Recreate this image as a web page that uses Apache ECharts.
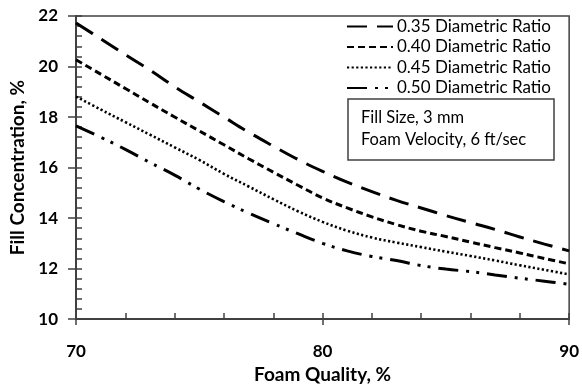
<!DOCTYPE html>
<html>
<head>
<meta charset="utf-8">
<script src="https://cdn.jsdelivr.net/npm/echarts@6/dist/echarts.min.js"></script>
<style>
  html, body { margin: 0; padding: 0; background: #fff; }
  #chart { width: 582px; height: 389px; }
</style>
</head>
<body>
<div id="chart"></div>
<script>
const foamQuality = [70, 71, 72, 73, 74, 75, 76, 77, 78, 79, 80, 81, 82, 83, 84, 85, 86, 87, 88, 89, 90]
const ratio035 = [21.72, 21.1, 20.47, 19.86, 19.2, 18.6, 18.0, 17.4, 16.85, 16.32, 15.85, 15.42, 15.05, 14.7, 14.4, 14.1, 13.82, 13.55, 13.25, 12.97, 12.7]
const ratio040 = [20.27, 19.7, 19.13, 18.56, 18.0, 17.45, 16.9, 16.35, 15.82, 15.3, 14.8, 14.4, 14.05, 13.74, 13.48, 13.27, 13.05, 12.83, 12.62, 12.4, 12.19]
const ratio045 = [18.81, 18.3, 17.8, 17.3, 16.8, 16.3, 15.75, 15.25, 14.75, 14.27, 13.85, 13.5, 13.23, 13.03, 12.85, 12.67, 12.5, 12.32, 12.13, 11.95, 11.77]
const ratio050 = [17.65, 17.2, 16.72, 16.2, 15.7, 15.15, 14.65, 14.2, 13.78, 13.38, 13.0, 12.7, 12.48, 12.32, 12.12, 11.98, 11.88, 11.75, 11.62, 11.5, 11.38]
const seriesNames = ['0.35 Diametric Ratio', '0.40 Diametric Ratio', '0.45 Diametric Ratio', '0.50 Diametric Ratio']
const noteLines = ['Fill Size, 3 mm', 'Foam Velocity, 6 ft/sec']

const font = 'Lato, "Liberation Sans", sans-serif'
const axisColor = '#404040'

function pairs (ys) {
  return foamQuality.map((x, i) => [x, ys[i]])
}

const dashes = [[20, 10], [7, 4], [2.2, 2.4], [20, 8, 3, 7, 3, 8]]
const widths = [3, 3, 2.6, 3]

const chart = echarts.init(document.getElementById('chart'), null, { renderer: 'canvas' })

chart.setOption({
  animation: false,
  backgroundColor: '#fff',
  grid: {
    left: 76, right: 8, top: 16, bottom: 63,
    show: true, borderColor: axisColor, borderWidth: 1.5
  },
  legend: {
    orient: 'vertical',
    left: 346,
    top: 18,
    padding: 0,
    itemWidth: 46,
    itemHeight: 12,
    itemGap: 3.5,
    data: seriesNames,
    itemStyle: { opacity: 0, borderWidth: 0 },
    textStyle: { fontFamily: font, fontSize: 17, color: '#000', padding: [0, 0, 0, -1] }
  },
  xAxis: [{
    type: 'value', min: 70, max: 90, interval: 10,
    axisLine: { show: true, lineStyle: { color: axisColor, width: 2 } },
    axisTick: { show: true, length: 6, lineStyle: { color: axisColor, width: 1.5 } },
    axisLabel: { margin: 24, fontFamily: font, fontSize: 17, fontWeight: 'bold', color: '#000' },
    splitLine: { show: false },
    name: 'Foam Quality, %',
    nameLocation: 'middle',
    nameGap: 43,
    nameTextStyle: { fontFamily: font, fontSize: 19, fontWeight: 'bold', color: '#000' }
  }, {
    type: 'value', min: 70, max: 90, interval: 2, position: 'bottom',
    axisLine: { show: false },
    axisTick: { show: true, inside: true, length: 6, lineStyle: { color: axisColor, width: 1.5 } },
    axisLabel: { show: false },
    splitLine: { show: false }
  }],
  yAxis: [{
    type: 'value', min: 10, max: 22, interval: 2, position: 'left',
    axisLine: { show: true, lineStyle: { color: axisColor, width: 2 } },
    axisTick: { show: true, length: 8, lineStyle: { color: axisColor, width: 1.5 } },
    axisLabel: { margin: 18, fontFamily: font, fontSize: 17, fontWeight: 'bold', color: '#000' },
    splitLine: { show: false },
    name: 'Fill Concentration, %',
    nameLocation: 'middle',
    nameGap: 44,
    nameTextStyle: { fontFamily: font, fontSize: 19, fontWeight: 'bold', color: '#000' }
  }, {
    type: 'value', min: 10, max: 22, interval: 2, position: 'left',
    axisLine: { show: false },
    axisTick: { show: true, inside: true, length: 6, lineStyle: { color: axisColor, width: 1.5 } },
    minorTick: { show: true, splitNumber: 5, length: 6, lineStyle: { color: axisColor, width: 1.5 } },
    axisLabel: { show: false },
    splitLine: { show: false }
  }],
  graphic: [{
    type: 'rect',
    shape: { x: 348, y: 99, width: 206, height: 61 },
    style: { fill: '#fff', stroke: axisColor, lineWidth: 1.5 },
    z: 100
  }, {
    type: 'text', x: 361, y: 118, z: 101,
    style: { text: noteLines[0], fontFamily: font, fontSize: 16.5, fill: '#000', verticalAlign: 'middle' }
  }, {
    type: 'text', x: 361, y: 140, z: 101,
    style: { text: noteLines[1], fontFamily: font, fontSize: 16.5, fill: '#000', verticalAlign: 'middle' }
  }],
  series: [ratio035, ratio040, ratio045, ratio050].map((ys, i) => ({
    name: seriesNames[i],
    type: 'line',
    data: pairs(ys),
    smooth: 0.4,
    symbol: 'none',
    itemStyle: { color: '#000' },
    lineStyle: { color: '#000', width: widths[i], type: dashes[i], cap: 'butt' }
  }))
})
</script>
</body>
</html>
